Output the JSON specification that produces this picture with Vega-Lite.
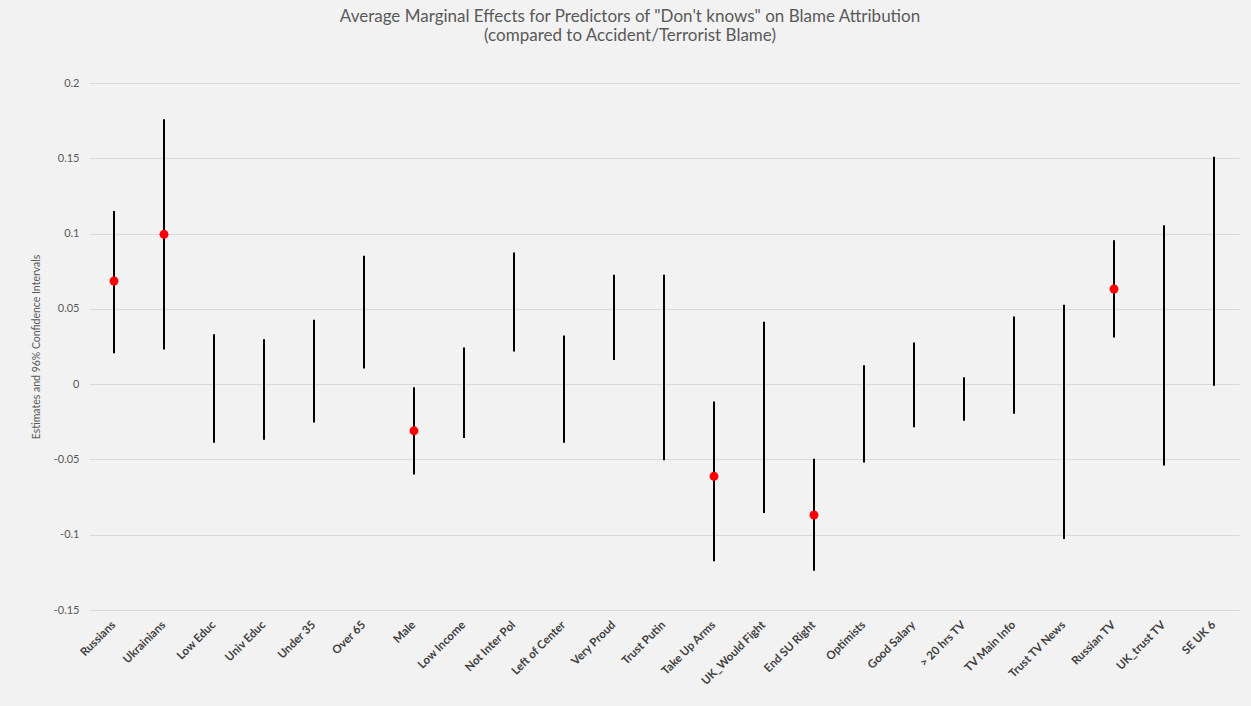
{
  "$schema": "https://vega.github.io/schema/vega-lite/v6.json",
  "width": 1150,
  "height": 527,
  "autosize": "none",
  "padding": {"left": 89, "top": 83, "right": 12, "bottom": 96},
  "background": "#f2f2f2",
  "config": {"font": "Lato", "view": {"stroke": null}},
  "title": {
    "text": ["Average Marginal Effects for Predictors of \"Don't knows\" on Blame  Attribution", "(compared to Accident/Terrorist Blame)"],
    "fontSize": 17,
    "fontWeight": "normal",
    "color": "#595959",
    "lineHeight": 19,
    "offset": 32,
    "dx": -34,
    "anchor": "middle"
  },
  "data": {
    "values": [
      {"predictor": "Russians", "low": 0.0206, "high": 0.115, "est": 0.0685},
      {"predictor": "Ukrainians", "low": 0.023, "high": 0.176, "est": 0.0995},
      {"predictor": "Low Educ", "low": -0.039, "high": 0.0332, "est": null},
      {"predictor": "Univ Educ", "low": -0.037, "high": 0.0298, "est": null},
      {"predictor": "Under 35", "low": -0.0254, "high": 0.0427, "est": null},
      {"predictor": "Over 65", "low": 0.0104, "high": 0.0853, "est": null},
      {"predictor": "Male", "low": -0.06, "high": -0.002, "est": -0.031},
      {"predictor": "Low Income", "low": -0.0358, "high": 0.0243, "est": null},
      {"predictor": "Not Inter Pol", "low": 0.0217, "high": 0.0875, "est": null},
      {"predictor": "Left of Center", "low": -0.039, "high": 0.0323, "est": null},
      {"predictor": "Very Proud", "low": 0.0161, "high": 0.0727, "est": null},
      {"predictor": "Trust Putin", "low": -0.0506, "high": 0.0727, "est": null},
      {"predictor": "Take Up Arms", "low": -0.1176, "high": -0.0115, "est": -0.0612},
      {"predictor": "UK_Would Fight", "low": -0.0855, "high": 0.0415, "est": null},
      {"predictor": "End SU Right", "low": -0.124, "high": -0.0495, "est": -0.0869},
      {"predictor": "Optimists", "low": -0.052, "high": 0.0126, "est": null},
      {"predictor": "Good Salary", "low": -0.0287, "high": 0.0276, "est": null},
      {"predictor": "> 20 hrs TV", "low": -0.0243, "high": 0.0046, "est": null},
      {"predictor": "TV Main Info", "low": -0.0197, "high": 0.0449, "est": null},
      {"predictor": "Trust TV News", "low": -0.1028, "high": 0.0528, "est": null},
      {"predictor": "Russian TV", "low": 0.031, "high": 0.0955, "est": 0.0632},
      {"predictor": "UK_trust TV", "low": -0.054, "high": 0.1056, "est": null},
      {"predictor": "SE UK 6", "low": -0.0011, "high": 0.151, "est": null}
    ]
  },
  "encoding": {
    "x": {
      "field": "predictor",
      "type": "nominal",
      "sort": null,
      "scale": {"paddingInner": 0, "paddingOuter": 0},
      "axis": {
        "title": null,
        "labelAngle": -45,
        "labelAlign": "right",
        "labelBaseline": "middle",
        "labelFontSize": 11.5,
        "labelFontWeight": "bold",
        "labelColor": "#404040",
        "labelPadding": 13,
        "ticks": false,
        "domain": false,
        "grid": false
      }
    }
  },
  "layer": [
    {
      "mark": {"type": "rule", "color": "black", "strokeWidth": 2},
      "encoding": {
        "y": {
          "field": "low",
          "type": "quantitative",
          "scale": {"domain": [-0.15, 0.2], "nice": false, "zero": false},
          "axis": {
            "title": "Estimates and 96% Confidence Intervals",
            "titleFontSize": 10.5,
            "titleFontWeight": "normal",
            "titleColor": "#595959",
            "titlePadding": 12,
            "values": [-0.15, -0.1, -0.05, 0, 0.05, 0.1, 0.15, 0.2],
            "labelExpr": "replace(format(datum.value, '~g'), '\u2212', '-')",
            "labelFontSize": 11,
            "labelColor": "#595959",
            "labelPadding": 10,
            "ticks": false,
            "domain": false,
            "gridColor": "#d9d9d9",
            "gridWidth": 1.2
          }
        },
        "y2": {"field": "high"}
      }
    },
    {
      "transform": [{"filter": "isValid(datum.est)"}],
      "mark": {"type": "circle", "color": "#ff0000", "opacity": 1, "size": 80},
      "encoding": {
        "y": {"field": "est", "type": "quantitative"}
      }
    }
  ]
}
